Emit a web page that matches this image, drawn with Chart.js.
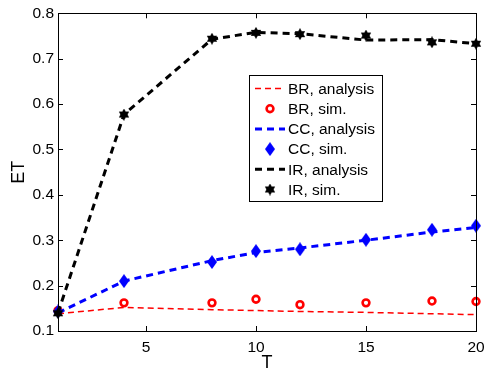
<!DOCTYPE html>
<html>
<head>
<meta charset="utf-8">
<script src="https://cdn.jsdelivr.net/npm/chart.js@4.4.1/dist/chart.umd.min.js"></script>
<style>
  body { margin: 0; background: #fff; }
  #wrap { width: 484px; height: 375px; }
</style>
</head>
<body>
<div id="wrap"><canvas id="etChart" width="484" height="375"></canvas></div>
<script>
// values
const T = [1, 4, 8, 10, 12, 15, 18, 20];
const brAnalysis = [0.138, 0.152, 0.147, 0.145, 0.143, 0.141, 0.138, 0.136];
const brSim = [0.145, 0.162, 0.162, 0.170, 0.158, 0.162, 0.166, 0.165];
const ccAnalysis = [0.140, 0.210, 0.255, 0.273, 0.283, 0.300, 0.318, 0.328];
const ccSim = [0.143, 0.210, 0.252, 0.276, 0.280, 0.301, 0.323, 0.332];
const irAnalysis = [0.140, 0.577, 0.743, 0.758, 0.755, 0.741, 0.742, 0.733];
const irSim = [0.139, 0.577, 0.744, 0.757, 0.754, 0.751, 0.736, 0.733];
const xTicks = [5, 10, 15, 20];
const yTicks = [0.1, 0.2, 0.3, 0.4, 0.5, 0.6, 0.7, 0.8];

const FONT = 'Liberation Sans, Arial, Helvetica, sans-serif';

const pts = ys => T.map((t, i) => ({ x: t, y: ys[i] }));

// six pointed star (matlab 'hexagram')
function makeHexagram(size, color) {
    const c = document.createElement('canvas');
    c.width = size; c.height = size;
    const g = c.getContext('2d');
    const r = size / 2, cx = r, cy = r;
    g.fillStyle = color;
    [-Math.PI / 2, Math.PI / 2].forEach(a0 => {
        g.beginPath();
        for (let k = 0; k < 3; k++) {
            const a = a0 + k * 2 * Math.PI / 3;
            const px = cx + r * Math.cos(a), py = cy + r * Math.sin(a);
            k === 0 ? g.moveTo(px, py) : g.lineTo(px, py);
        }
        g.closePath();
        g.fill();
    });
    return c;
}

// tall diamond
function makeDiamond(w, h, color) {
    const c = document.createElement('canvas');
    c.width = w; c.height = h;
    const g = c.getContext('2d');
    g.fillStyle = color;
    g.beginPath();
    g.moveTo(w / 2, 0); g.lineTo(w, h / 2); g.lineTo(w / 2, h); g.lineTo(0, h / 2);
    g.closePath();
    g.fill();
    return c;
}

const starImg = makeHexagram(12, '#000');
const diamondImg = makeDiamond(10, 14, '#0000ff');

const lineSet = (label, data, color, width, dash, order) => ({
    label, data: pts(data), showLine: true, borderColor: color, borderWidth: width,
    borderDash: dash, pointRadius: 0, pointHoverRadius: 0, fill: false, clip: false, order
});

const markSet = (label, data, style, extra, order) => Object.assign({
    label, data: pts(data), showLine: false, pointStyle: style, clip: false, order
}, extra);

// inward ticks + box, legend drawn inside the axes
const matlabBox = {
    id: 'matlabBox',
    afterDraw(chart) {
        const { ctx, chartArea: a, scales } = chart;
        ctx.save();
        ctx.strokeStyle = '#000';
        ctx.lineWidth = 1;
        ctx.beginPath();
        xTicks.forEach(v => {
            const x = Math.round(scales.x.getPixelForValue(v)) + 0.5;
            ctx.moveTo(x, a.bottom); ctx.lineTo(x, a.bottom - 5);
            ctx.moveTo(x, a.top); ctx.lineTo(x, a.top + 5);
        });
        yTicks.forEach(v => {
            const y = Math.round(scales.y.getPixelForValue(v)) + 0.5;
            ctx.moveTo(a.left, y); ctx.lineTo(a.left + 5, y);
            ctx.moveTo(a.right, y); ctx.lineTo(a.right - 5, y);
        });
        ctx.stroke();
        ctx.strokeRect(Math.round(a.left) + 0.5, Math.round(a.top) + 0.5,
            Math.round(a.right - a.left), Math.round(a.bottom - a.top));

        // legend
        const lx = 249.5, ly = 75.5, lw = 133, lh = 126;
        ctx.fillStyle = '#fff';
        ctx.fillRect(lx, ly, lw, lh);
        ctx.strokeRect(lx, ly, lw, lh);
        ctx.font = '15.5px ' + FONT;
        ctx.textBaseline = 'middle';
        chart.data.datasets.forEach((ds, i) => {
            const cy = 88.5 + i * 20.2;
            if (ds.showLine) {
                ctx.save();
                ctx.strokeStyle = ds.borderColor;
                ctx.lineWidth = ds.borderWidth;
                ctx.setLineDash(ds.borderDash);
                ctx.beginPath();
                ctx.moveTo(255, cy); ctx.lineTo(285, cy);
                ctx.stroke();
                ctx.restore();
            } else if (ds.pointStyle === 'circle') {
                ctx.save();
                ctx.fillStyle = ds.backgroundColor;
                ctx.strokeStyle = ds.borderColor;
                ctx.lineWidth = ds.borderWidth;
                ctx.beginPath();
                ctx.arc(270, cy, ds.pointRadius, 0, Math.PI * 2);
                ctx.fill(); ctx.stroke();
                ctx.restore();
            } else {
                Chart.helpers.drawPoint(ctx, {
                    pointStyle: ds.pointStyle, radius: ds.pointRadius, rotation: 0, borderWidth: 0
                }, 270, cy);
            }
            ctx.fillStyle = '#000';
            ctx.fillText(ds.label, 288, cy + 1);
        });
        ctx.restore();
    }
};

new Chart(document.getElementById('etChart'), {
    type: 'scatter',
    data: {
        datasets: [
            lineSet('BR, analysis', brAnalysis, '#ff0000', 1.5, [6, 4], 6),
            markSet('BR, sim.', brSim, 'circle',
                { pointRadius: 3.4, borderWidth: 2.6, borderColor: '#ff0000', backgroundColor: '#fff' }, 5),
            lineSet('CC, analysis', ccAnalysis, '#0000ff', 3, [7, 5], 4),
            markSet('CC, sim.', ccSim, diamondImg, { pointRadius: 7 }, 3),
            lineSet('IR, analysis', irAnalysis, '#000000', 3, [7, 5], 2),
            markSet('IR, sim.', irSim, starImg, { pointRadius: 6 }, 1)
        ]
    },
    options: {
        responsive: false,
        animation: false,
        devicePixelRatio: 1,
        layout: { padding: { top: 6, right: 0, left: 0, bottom: 0 } },
        plugins: { legend: { display: false }, tooltip: { enabled: false } },
        scales: {
            x: {
                type: 'linear', min: 1, max: 20,
                afterBuildTicks: s => { s.ticks = xTicks.map(v => ({ value: v })); },
                afterFit: s => { s.height = 44; s.paddingRight = 8; },
                grid: { display: false, drawTicks: false }, border: { display: false },
                ticks: { color: '#000', font: { family: FONT, size: 15.5 }, padding: 7, maxRotation: 0 },
                title: { display: true, text: 'T', color: '#000', font: { family: FONT, size: 18 }, padding: { top: 0, bottom: 1 } }
            },
            y: {
                min: 0.1, max: 0.8,
                afterBuildTicks: s => { s.ticks = yTicks.map(v => ({ value: v })); },
                afterFit: s => { s.width = 58; },
                grid: { display: false, drawTicks: false }, border: { display: false },
                ticks: { color: '#000', font: { family: FONT, size: 15.5 }, padding: 4, callback: v => v.toFixed(1) },
                title: { display: true, text: 'ET', color: '#000', font: { family: FONT, size: 18 }, padding: { top: 8, bottom: 0 } }
            }
        }
    },
    plugins: [matlabBox]
});
</script>
</body>
</html>
